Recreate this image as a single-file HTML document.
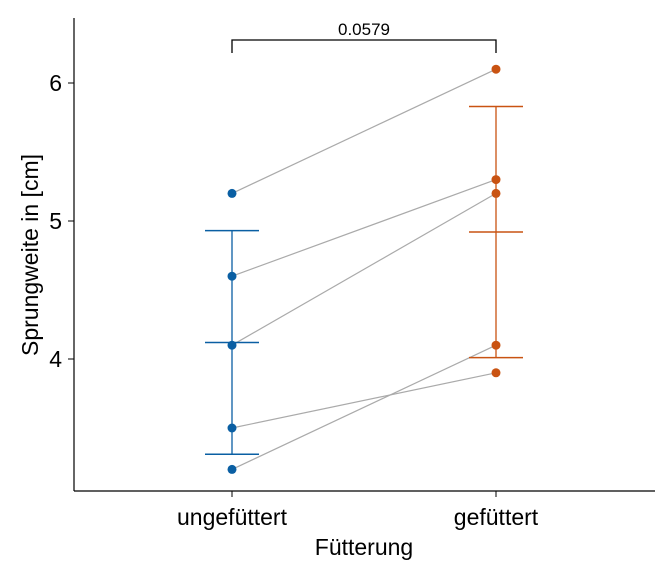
<!DOCTYPE html>
<html><head><meta charset="utf-8"><style>body{margin:0;background:#fff}svg{display:block;font-family:"Liberation Sans",sans-serif}</style></head>
<body>
<svg id="c" width="672" height="576"></svg>
<script>
const groups=["ungefüttert","gefüttert"];
const before=[5.2,4.6,4.1,3.5,3.2];
const after=[6.1,5.3,5.2,3.9,4.1];
const means=[4.12,4.92];
const upper=[4.93,5.83];
const lower=[3.31,4.01];
const yTicks=[4,5,6];
const pLabel="0.0579";
const colors=["#0a5fa3","#c95312"];
const NS="http://www.w3.org/2000/svg";
const svg=document.getElementById('c');
const xs=i=>232+i*264;
const ys=v=>359-(v-4)*138;
function mk(t,a,p){const e=document.createElementNS(NS,t);for(const k in a)e.setAttribute(k,a[k]);(p||svg).appendChild(e);return e;}
let e;
e=mk('line',{x1:74,y1:18,x2:74,y2:491,stroke:'#000','stroke-width':1.2});


e=mk('line',{x1:74,y1:491,x2:655,y2:491,stroke:'#000','stroke-width':1.2});


yTicks.forEach(v=>{
 e=mk('line',{x1:68,x2:74,y1:ys(v),y2:ys(v),stroke:'#000'});
 
 
 e=mk('text',{x:62,y:ys(v)+8,'text-anchor':'end','font-size':23});e.textContent=v;
 
 
});
groups.forEach((g,i)=>{
 e=mk('line',{x1:xs(i),x2:xs(i),y1:491,y2:497,stroke:'#000'});
 
 
 e=mk('text',{x:xs(i),y:525,'text-anchor':'middle','font-size':23});e.textContent=g;
 
 
});
e=mk('text',{x:364,y:555,'text-anchor':'middle','font-size':23});e.textContent="Fütterung";


e=mk('text',{x:0,y:0,'text-anchor':'middle','font-size':23,transform:'translate(38,255) rotate(-90)'});e.textContent="Sprungweite in [cm]";


before.forEach((b,k)=>{
 e=mk('line',{x1:xs(0),y1:ys(b),x2:xs(1),y2:ys(after[k]),stroke:'#aaa','stroke-width':1.2});
 
 
});
groups.forEach((g,i)=>{
 const c=colors[i],x=xs(i);
 e=mk('line',{x1:x,x2:x,y1:ys(upper[i]),y2:ys(lower[i]),stroke:c,'stroke-width':1.3});
 
 
 [upper[i],means[i],lower[i]].forEach(v=>{
  e=mk('line',{x1:x-27,x2:x+27,y1:ys(v),y2:ys(v),stroke:c,'stroke-width':1.5});
  
  
 });
 (i?after:before).forEach(v=>{
  e=mk('circle',{cx:x,cy:ys(v),r:4.5,fill:c});
  
  
 });
});
e=mk('path',{d:`M${xs(0)},53V40H${xs(1)}V53`,fill:'none',stroke:'#000','stroke-width':1.3});


e=mk('text',{x:364,y:35,'text-anchor':'middle','font-size':17});e.textContent=pLabel;


</script>
</body></html>
